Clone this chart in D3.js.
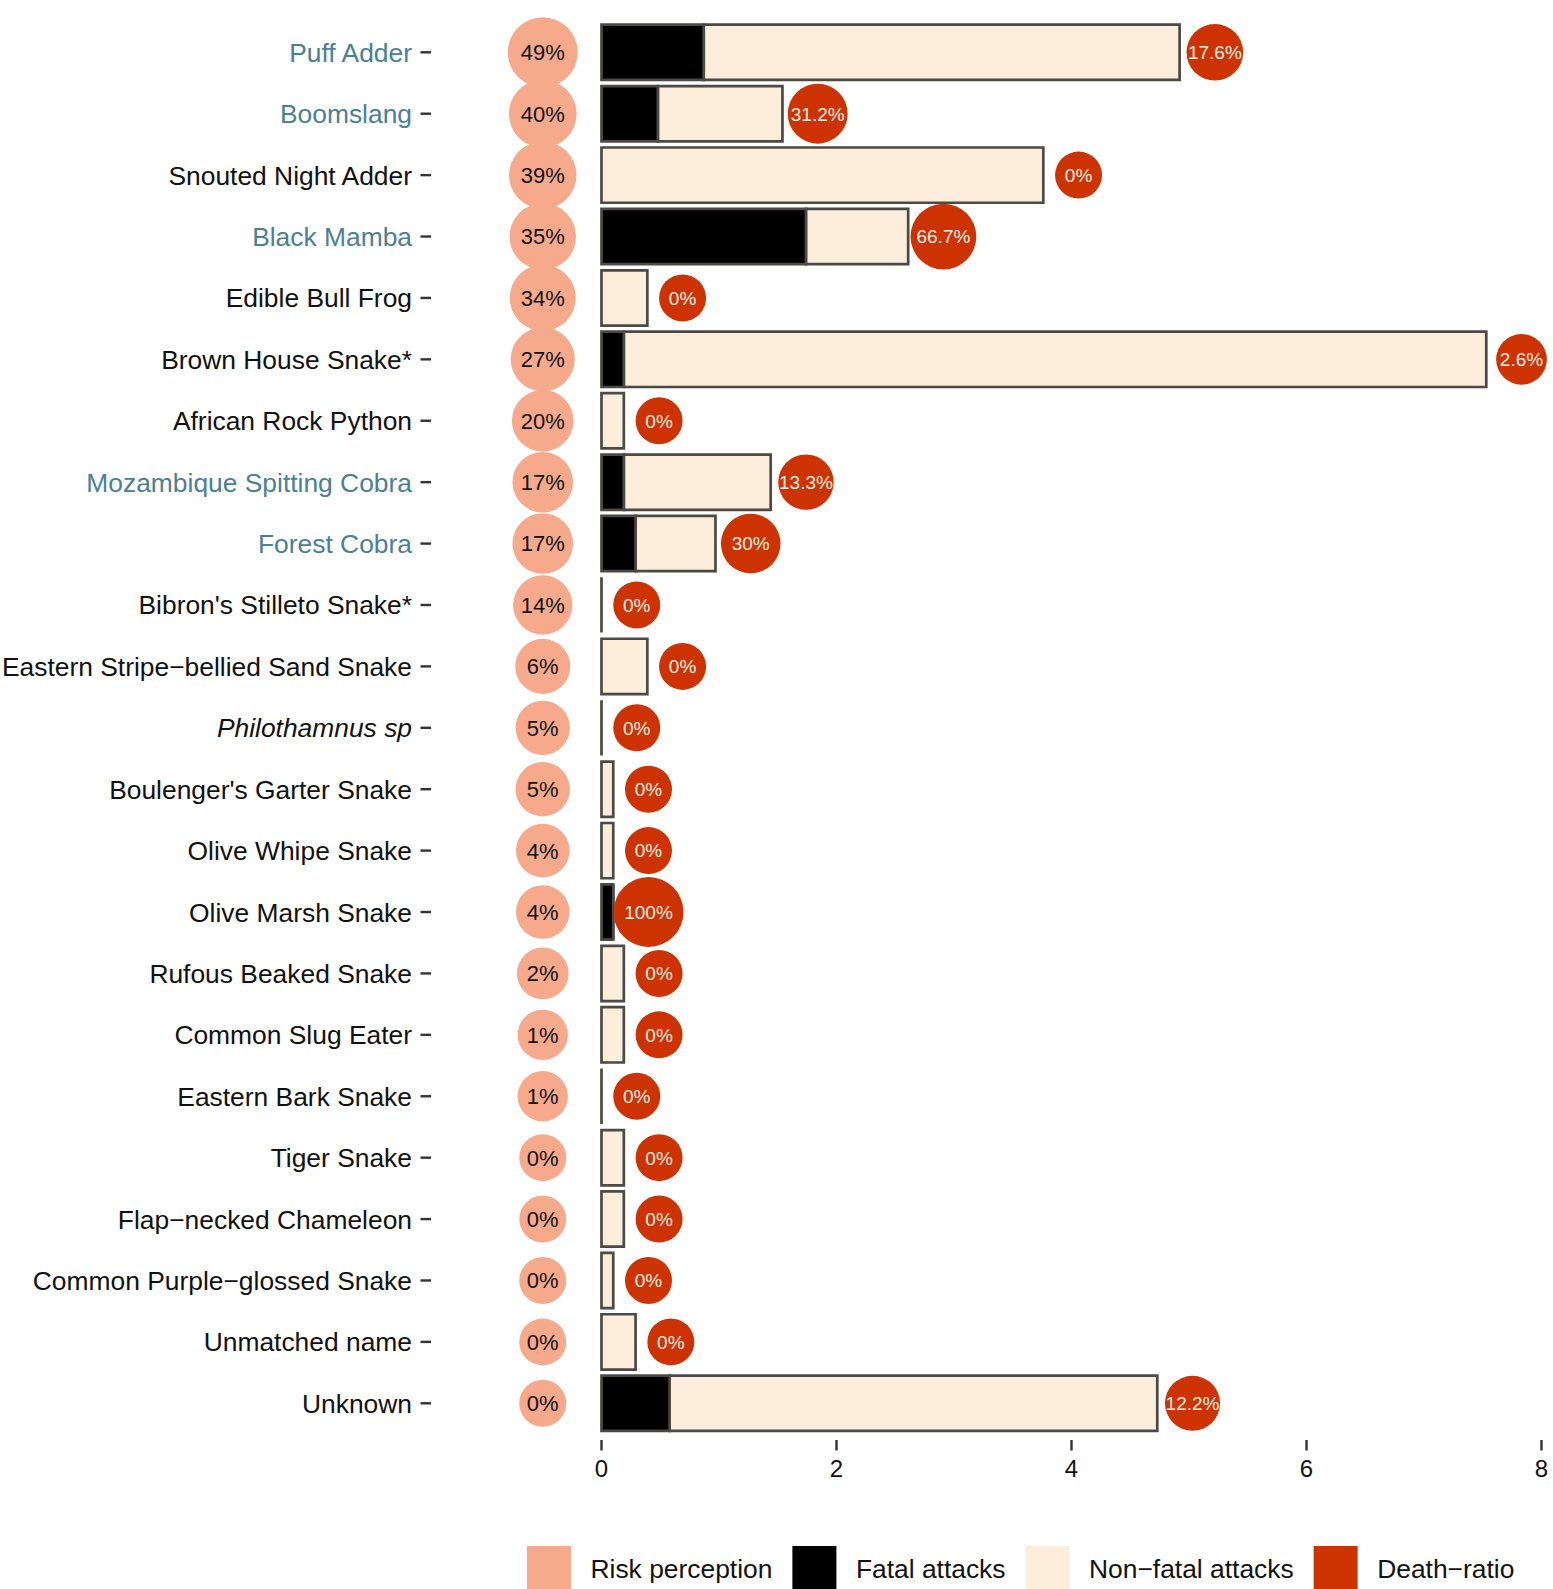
<!DOCTYPE html>
<html>
<head>
<meta charset="utf-8">
<script src="https://cdn.jsdelivr.net/npm/d3@7"></script>
<style>
  html, body { margin: 0; padding: 0; background: #ffffff; }
  svg { display: block; font-family: "Liberation Sans", Arial, Helvetica, sans-serif; }
</style>
</head>
<body>
<svg id="chart" width="1553" height="1589"></svg>
<script>
const categories = [
  "Puff Adder", "Boomslang", "Snouted Night Adder", "Black Mamba", "Edible Bull Frog",
  "Brown House Snake*", "African Rock Python", "Mozambique Spitting Cobra", "Forest Cobra",
  "Bibron's Stilleto Snake*", "Eastern Stripe\u2212bellied Sand Snake", "Philothamnus sp",
  "Boulenger's Garter Snake", "Olive Whipe Snake", "Olive Marsh Snake", "Rufous Beaked Snake",
  "Common Slug Eater", "Eastern Bark Snake", "Tiger Snake", "Flap\u2212necked Chameleon",
  "Common Purple\u2212glossed Snake", "Unmatched name", "Unknown"
];
const riskPerception = [49, 40, 39, 35, 34, 27, 20, 17, 17, 14, 6, 5, 5, 4, 4, 2, 1, 1, 0, 0, 0, 0, 0];
const fatalAttacks = [0.87, 0.48, 0, 1.74, 0, 0.19, 0, 0.19, 0.29, 0, 0, 0, 0, 0, 0.10, 0, 0, 0, 0, 0, 0, 0, 0.58];
const nonFatalAttacks = [4.05, 1.06, 3.76, 0.87, 0.39, 7.34, 0.19, 1.25, 0.68, 0, 0.39, 0, 0.10, 0.10, 0, 0.19, 0.19, 0, 0.19, 0.19, 0.10, 0.29, 4.15];
const deathRatio = [17.6, 31.2, 0, 66.7, 0, 2.6, 0, 13.3, 30, 0, 0, 0, 0, 0, 100, 0, 0, 0, 0, 0, 0, 0, 12.2];
const highlightedSpecies = ["Puff Adder", "Boomslang", "Black Mamba", "Mozambique Spitting Cobra", "Forest Cobra"];
const italicSpecies = ["Philothamnus sp"];
const xTicks = [0, 2, 4, 6, 8];
const legendLabels = ["Risk perception", "Fatal attacks", "Non\u2212fatal attacks", "Death\u2212ratio"];

const colors = {
  risk: "#F7A98B",
  fatal: "#000000",
  nonFatal: "#FDEEDC",
  death: "#CC3300",
  outline: "#4D4944",
  highlight: "#4B8093"
};

const svg = d3.select("#chart");

const x = d3.scaleLinear().domain([0, 8]).range([601.5, 1541.5]);
const y = d3.scalePoint().domain(categories).range([52.3, 1403.3]);
const bandH = y.step() * 0.9;
const riskR = d3.scaleSqrt().domain([0, d3.max(riskPerception)]).range([23.5, 35]);
const deathR = d3.scaleSqrt().domain([0, 100]).range([23.5, 35]);

const rows = categories.map((c, i) => ({
  name: c,
  risk: riskPerception[i],
  fatal: fatalAttacks[i],
  nonFatal: nonFatalAttacks[i],
  total: fatalAttacks[i] + nonFatalAttacks[i],
  death: deathRatio[i]
}));

function rectPath(x0, x1, yc) {
  const y0 = yc - bandH / 2, y1 = yc + bandH / 2;
  return `M${x0},${y0}H${x1}V${y1}H${x0}Z`;
}

// y axis labels and ticks
const yAxis = svg.append("g");
yAxis.selectAll("line").data(rows).join("line")
  .attr("x1", 420.5).attr("x2", 431)
  .attr("y1", d => y(d.name)).attr("y2", d => y(d.name))
  .attr("stroke", "#333333").attr("stroke-width", 2.4);
yAxis.selectAll("text").data(rows).join("text")
  .attr("x", 412).attr("y", d => y(d.name))
  .attr("dy", "0.36em")
  .attr("text-anchor", "end")
  .attr("font-size", 26.4)
  .attr("font-style", d => italicSpecies.includes(d.name) ? "italic" : "normal")
  .attr("fill", d => highlightedSpecies.includes(d.name) ? colors.highlight : "#111111")
  .text(d => d.name);

// x axis ticks
const xAxis = svg.append("g");
xAxis.selectAll("line").data(xTicks).join("line")
  .attr("x1", d => x(d)).attr("x2", d => x(d))
  .attr("y1", 1440).attr("y2", 1450.5)
  .attr("stroke", "#333333").attr("stroke-width", 2.4);
xAxis.selectAll("text").data(xTicks).join("text")
  .attr("x", d => x(d)).attr("y", 1476.5)
  .attr("text-anchor", "middle")
  .attr("font-size", 24)
  .attr("fill", "#111111")
  .text(d => d);

// bars: non-fatal (full stacked) then fatal
const bars = svg.append("g");
bars.selectAll("path.nf").data(rows).join("path")
  .attr("class", "nf")
  .attr("d", d => rectPath(x(d.fatal), x(d.total), y(d.name)))
  .attr("fill", colors.nonFatal)
  .attr("stroke", colors.outline).attr("stroke-width", 2.7);
bars.selectAll("path.f").data(rows.filter(d => d.fatal > 0)).join("path")
  .attr("class", "f")
  .attr("d", d => rectPath(x(0), x(d.fatal), y(d.name)))
  .attr("fill", colors.fatal)
  .attr("stroke", colors.outline).attr("stroke-width", 2.7);

// risk perception circles
const risk = svg.append("g");
risk.selectAll("circle").data(rows).join("circle")
  .attr("cx", x(-0.5)).attr("cy", d => y(d.name))
  .attr("r", d => riskR(d.risk))
  .attr("fill", colors.risk);
risk.selectAll("text").data(rows).join("text")
  .attr("x", x(-0.5)).attr("y", d => y(d.name))
  .attr("dy", "0.36em")
  .attr("text-anchor", "middle")
  .attr("font-size", 22)
  .attr("fill", "#111111")
  .text(d => d.risk + "%");

// death-ratio circles
const death = svg.append("g");
death.selectAll("circle").data(rows).join("circle")
  .attr("cx", d => x(d.total + 0.3)).attr("cy", d => y(d.name))
  .attr("r", d => deathR(d.death))
  .attr("fill", colors.death);
death.selectAll("text").data(rows).join("text")
  .attr("x", d => x(d.total + 0.3)).attr("y", d => y(d.name))
  .attr("dy", "0.36em")
  .attr("text-anchor", "middle")
  .attr("font-size", 19)
  .attr("fill", "#FDF0E4")
  .text(d => d.death + "%");

// legend
const legendColors = [colors.risk, colors.fatal, colors.nonFatal, colors.death];
const legend = svg.append("g");
const keySize = 44, keyGap = 19.5, itemGap = 20;
let cursor = 527;
legendLabels.forEach((label, i) => {
  legend.append("rect")
    .attr("x", cursor).attr("y", 1546)
    .attr("width", keySize).attr("height", keySize)
    .attr("fill", legendColors[i]);
  const t = legend.append("text")
    .attr("x", cursor + keySize + keyGap).attr("y", 1568)
    .attr("dy", "0.36em")
    .attr("font-size", 26.4)
    .attr("fill", "#111111")
    .text(label);
  cursor += keySize + keyGap + t.node().getComputedTextLength() + itemGap;
});
</script>
</body>
</html>
